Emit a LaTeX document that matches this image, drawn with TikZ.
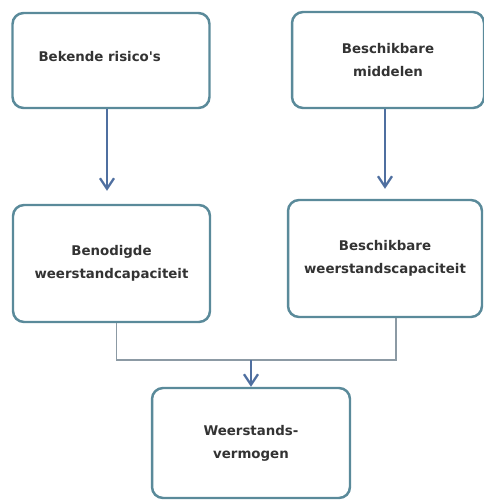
\documentclass[tikz,border=0pt]{standalone}
\usepackage{fontspec}
\setmainfont{DejaVu Sans}
\usetikzlibrary{calc}
\tikzset{>=stealth}
\definecolor{rand}{HTML}{5A8A9A}
\definecolor{pijl}{HTML}{4F6FA0}
\definecolor{lijn}{HTML}{8C9AA4}
\definecolor{tekst}{HTML}{333333}
\tikzset{
  vak/.style={draw=rand, line width=1.4pt, rounded corners=0.22cm, fill=white,
    align=center, text=tekst, font=\fontsize{7.6}{13}\selectfont\bfseries},
  pijlstreep/.style={draw=pijl, line width=1.3pt, -{Straight Barb[length=6pt,width=8pt]}},
  verbinding/.style={draw=lijn, line width=0.9pt}
}
\usetikzlibrary{arrows.meta}
\begin{document}
\begin{tikzpicture}[x=0.02cm, y=-0.02cm]
    \useasboundingbox (0,0) rectangle (484,501);

      \node[vak, minimum width=3.94cm, minimum height=1.9cm] (risico) at (111,60.5)
        {\hspace*{-0.45cm}\raisebox{0.16cm}{Bekende risico\textquotesingle s}};
      \node[vak, minimum width=3.84cm, minimum height=1.92cm] (middelen) at (388,60)
        {Beschikbare\\middelen};
      \node[vak, minimum width=3.94cm, minimum height=2.34cm] (benodigd) at (111.5,263.5)
        {Benodigde\\weerstandcapaciteit};
      \node[vak, minimum width=3.88cm, minimum height=2.34cm] (beschikbaar) at (385,258.5)
        {Beschikbare\\weerstandscapaciteit};
      \node[vak, minimum width=3.96cm, minimum height=2.2cm] (vermogen) at (251,443)
        {Weerstands-\\vermogen};

    \draw[pijlstreep, shorten >=0.26cm] ([xshift=-0.08cm]risico.south) -- ([xshift=-0.08cm]risico.south |- benodigd.north);
    \draw[pijlstreep, shorten >=0.2cm] ([xshift=-0.06cm]middelen.south) -- ([xshift=-0.06cm]middelen.south |- beschikbaar.north);

      \coordinate (samen) at (vermogen.north |- 0,360);
    \draw[verbinding] ([xshift=0.1cm]benodigd.south) |- (samen) -| ([xshift=0.22cm]beschikbaar.south);
    \draw[pijlstreep] (samen) -- (vermogen.north);
\end{tikzpicture}
\end{document}
